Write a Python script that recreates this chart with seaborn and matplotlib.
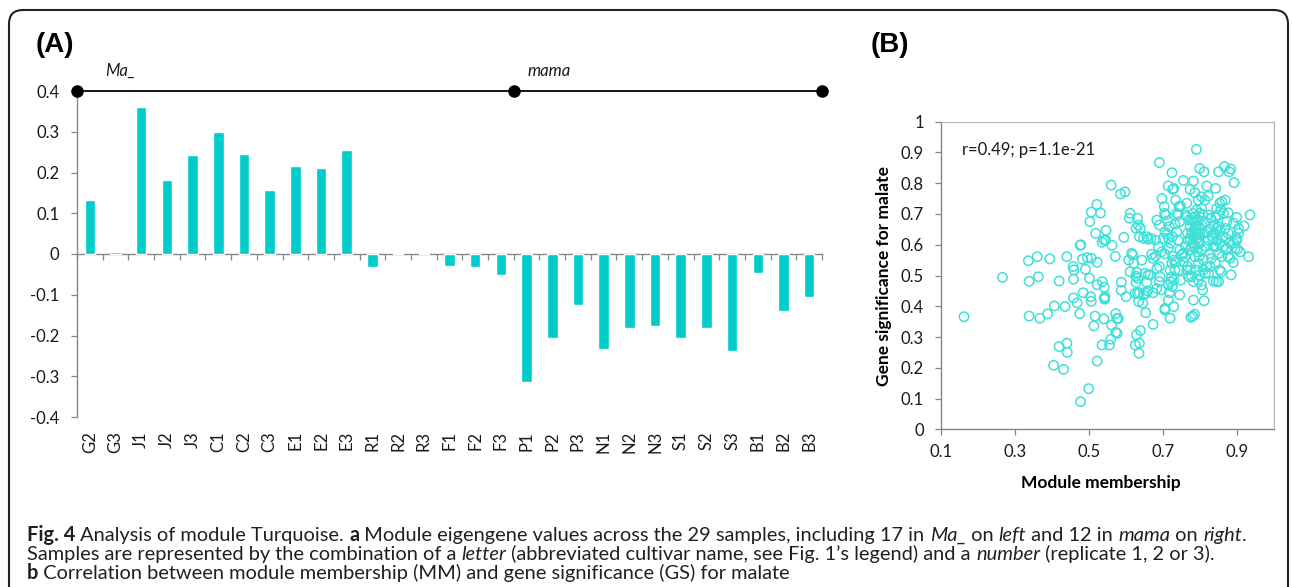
import numpy as np
import pandas as pd
import matplotlib
matplotlib.use("Agg")
import matplotlib.pyplot as plt
import seaborn as sns
from matplotlib.patches import FancyBboxPatch
from matplotlib.transforms import IdentityTransform

# ---------------- data ----------------
samples = ["G2", "G3", "J1", "J2", "J3", "C1", "C2", "C3", "E1", "E2", "E3",
           "R1", "R2", "R3", "F1", "F2", "F3",
           "P1", "P2", "P3", "N1", "N2", "N3", "S1", "S2", "S3", "B1", "B2", "B3"]
eigengene = [0.133, 0.006, 0.360, 0.181, 0.243, 0.300, 0.246, 0.158, 0.216, 0.212, 0.256,
             -0.032, 0.002, 0.002, -0.029, -0.031, -0.052,
             -0.314, -0.207, -0.124, -0.234, -0.181, -0.176, -0.205, -0.181, -0.237,
             -0.046, -0.139, -0.106]
group_names = ["Ma_", "mama"]
group_sizes = [17, 12]
bar_yticks = [-0.4, -0.3, -0.2, -0.1, 0.0, 0.1, 0.2, 0.3, 0.4]
bar_yticklabels = ["-0.4", "-0.3", "-0.2", "-0.1", "0", "0.1", "0.2", "0.3", "0.4"]

mm = [0.163, 0.267, 0.337, 0.361, 0.364, 0.339, 0.395, 0.420, 0.339, 0.368,
      0.389, 0.407, 0.436, 0.441, 0.458, 0.460, 0.459, 0.477, 0.479, 0.483,
      0.496, 0.507, 0.491, 0.502, 0.523, 0.485, 0.459, 0.469, 0.476, 0.505,
      0.507, 0.523, 0.537, 0.542, 0.542, 0.544, 0.543, 0.517, 0.541, 0.514,
      0.420, 0.441, 0.442, 0.405, 0.432, 0.523, 0.536, 0.556, 0.562, 0.573,
      0.576, 0.580, 0.573, 0.577, 0.560, 0.500, 0.478, 0.503, 0.507, 0.522,
      0.532, 0.519, 0.547, 0.536, 0.541, 0.546, 0.563, 0.572, 0.561, 0.586,
      0.598, 0.595, 0.588, 0.588, 0.601, 0.608, 0.612, 0.630, 0.629, 0.626,
      0.637, 0.636, 0.640, 0.654, 0.674,
      0.612, 0.610, 0.616, 0.619, 0.622, 0.628, 0.632, 0.634, 0.637, 0.640,
      0.644, 0.627, 0.632, 0.628, 0.632, 0.637, 0.625, 0.635, 0.646, 0.648,
      0.655, 0.659, 0.657, 0.661, 0.652, 0.657, 0.661, 0.668, 0.648, 0.684,
      0.691, 0.681, 0.688, 0.697, 0.670, 0.674, 0.681, 0.666, 0.684, 0.691,
      0.693, 0.691, 0.697, 0.684, 0.674, 0.691, 0.698, 0.704, 0.705, 0.709,
      0.714, 0.706, 0.711, 0.718, 0.715, 0.702, 0.706, 0.715, 0.721, 0.726,
      0.706, 0.706, 0.715, 0.718, 0.715, 0.720, 0.724, 0.726, 0.730, 0.721,
      0.724, 0.726, 0.720, 0.730, 0.715, 0.725, 0.727, 0.730, 0.735, 0.733,
      0.738, 0.744, 0.748, 0.742, 0.746, 0.738, 0.742, 0.746, 0.751, 0.736,
      0.733, 0.730, 0.744, 0.749, 0.746, 0.756, 0.762, 0.760, 0.756, 0.765,
      0.769, 0.767,
      0.774, 0.783, 0.787, 0.791, 0.796, 0.800, 0.805, 0.812, 0.819, 0.823,
      0.843, 0.851, 0.867, 0.880, 0.884, 0.893, 0.920, 0.936, 0.932, 0.909,
      0.900, 0.905, 0.891, 0.885, 0.891, 0.896, 0.900, 0.905, 0.877, 0.873,
      0.871, 0.869, 0.873, 0.877, 0.864, 0.869, 0.860, 0.854, 0.857, 0.850,
      0.846, 0.843, 0.839, 0.846, 0.850, 0.855, 0.841, 0.837, 0.846, 0.854,
      0.845, 0.851, 0.842, 0.854, 0.858, 0.845, 0.851, 0.837, 0.828, 0.824,
      0.819, 0.815, 0.810, 0.812, 0.808, 0.805, 0.796, 0.800, 0.791, 0.796,
      0.787, 0.783, 0.778, 0.774, 0.783, 0.781, 0.786, 0.776, 0.800, 0.805,
      0.796, 0.787, 0.781, 0.774, 0.769, 0.778, 0.784, 0.791, 0.798, 0.805,
      0.796, 0.787, 0.781, 0.791, 0.800, 0.809, 0.814, 0.819, 0.812, 0.823,
      0.830, 0.823, 0.817, 0.828, 0.832, 0.774, 0.771, 0.765, 0.767, 0.762,
      0.756, 0.791, 0.784, 0.796, 0.798, 0.789, 0.778, 0.774, 0.793, 0.798,
      0.810, 0.800, 0.787, 0.778, 0.805, 0.814, 0.765, 0.828, 0.832, 0.837,
      0.860, 0.864, 0.862, 0.877, 0.882, 0.891, 0.882, 0.900, 0.902]
gs = [0.366, 0.494, 0.548, 0.561, 0.496, 0.481, 0.554, 0.482, 0.368, 0.361,
      0.375, 0.401, 0.399, 0.561, 0.529, 0.518, 0.488, 0.598, 0.600, 0.553,
      0.558, 0.556, 0.520, 0.491, 0.543, 0.444, 0.427, 0.411, 0.376, 0.431,
      0.416, 0.470, 0.480, 0.462, 0.427, 0.431, 0.423, 0.368, 0.359, 0.336,
      0.269, 0.280, 0.250, 0.208, 0.195, 0.222, 0.274, 0.274, 0.339, 0.376,
      0.360, 0.360, 0.315, 0.312, 0.293, 0.132, 0.090, 0.675, 0.706, 0.731,
      0.703, 0.637, 0.647, 0.608, 0.615, 0.615, 0.598, 0.562, 0.794, 0.765,
      0.772, 0.624, 0.478, 0.452, 0.431, 0.550, 0.512, 0.510, 0.307, 0.274,
      0.280, 0.247, 0.321, 0.379, 0.341,
      0.702, 0.686, 0.572, 0.567, 0.540, 0.653, 0.686, 0.664, 0.626, 0.653,
      0.550, 0.498, 0.491, 0.477, 0.442, 0.444, 0.442, 0.415, 0.410, 0.436,
      0.442, 0.450, 0.477, 0.502, 0.507, 0.626, 0.618, 0.621, 0.621, 0.680,
      0.664, 0.615, 0.594, 0.577, 0.569, 0.556, 0.563, 0.502, 0.523, 0.529,
      0.496, 0.480, 0.453, 0.458, 0.444, 0.867, 0.750, 0.724, 0.702, 0.697,
      0.678, 0.642, 0.635, 0.659, 0.621, 0.621, 0.570, 0.588, 0.605, 0.626,
      0.393, 0.388, 0.420, 0.444, 0.469, 0.518, 0.540, 0.563, 0.550, 0.480,
      0.496, 0.464, 0.361, 0.399, 0.791, 0.834, 0.780, 0.783, 0.745, 0.667,
      0.702, 0.724, 0.726, 0.697, 0.675, 0.642, 0.615, 0.583, 0.567, 0.545,
      0.518, 0.485, 0.518, 0.485, 0.437, 0.809, 0.697, 0.561, 0.545, 0.518,
      0.496, 0.529,
      0.780, 0.807, 0.769, 0.910, 0.745, 0.848, 0.756, 0.837, 0.791, 0.758,
      0.783, 0.837, 0.854, 0.837, 0.846, 0.802, 0.661, 0.697, 0.561, 0.577,
      0.689, 0.653, 0.670, 0.502, 0.542, 0.588, 0.621, 0.637, 0.561, 0.588,
      0.621, 0.653, 0.675, 0.704, 0.702, 0.745, 0.740, 0.735, 0.713, 0.697,
      0.718, 0.691, 0.664, 0.653, 0.659, 0.648, 0.637, 0.618, 0.615, 0.605,
      0.594, 0.572, 0.540, 0.518, 0.512, 0.480, 0.480, 0.482, 0.529, 0.507,
      0.529, 0.507, 0.518, 0.418, 0.453, 0.469, 0.485, 0.502, 0.518, 0.540,
      0.561, 0.480, 0.496, 0.518, 0.420, 0.368, 0.374, 0.364, 0.605, 0.583,
      0.610, 0.594, 0.605, 0.621, 0.615, 0.637, 0.646, 0.653, 0.659, 0.664,
      0.680, 0.691, 0.702, 0.713, 0.702, 0.697, 0.675, 0.642, 0.637, 0.697,
      0.686, 0.615, 0.594, 0.572, 0.556, 0.659, 0.680, 0.691, 0.637, 0.594,
      0.572, 0.632, 0.626, 0.637, 0.624, 0.615, 0.594, 0.583, 0.577, 0.561,
      0.550, 0.640, 0.670, 0.680, 0.718, 0.745, 0.735, 0.650, 0.629, 0.594,
      0.561, 0.594, 0.626, 0.637, 0.605, 0.605, 0.556, 0.615, 0.585]
sc_xticks = [0.1, 0.3, 0.5, 0.7, 0.9]
sc_xticklabels = ["0.1", "0.3", "0.5", "0.7", "0.9"]
sc_yticks = [0.0, 0.1, 0.2, 0.3, 0.4, 0.5, 0.6, 0.7, 0.8, 0.9, 1.0]
sc_yticklabels = ["0", "0.1", "0.2", "0.3", "0.4", "0.5", "0.6", "0.7", "0.8", "0.9", "1"]
stat_text = "r=0.49; p=1.1e-21"
sc_xlabel = "Module membership"
sc_ylabel = "Gene significance for malate"

caption_lines = [
    [("Fig. 4", "bold", "normal"), (" Analysis of module Turquoise. ", "normal", "normal"),
     ("a", "bold", "normal"),
     (" Module eigengene values across the 29 samples, including 17 in ", "normal", "normal"),
     ("Ma_", "normal", "italic"), (" on ", "normal", "normal"), ("left", "normal", "italic"),
     (" and 12 in ", "normal", "normal"), ("mama", "normal", "italic"),
     (" on ", "normal", "normal"), ("right", "normal", "italic"), (".", "normal", "normal")],
    [("Samples are represented by the combination of a ", "normal", "normal"),
     ("letter", "normal", "italic"),
     (" (abbreviated cultivar name, see Fig. 1\u2019s legend) and a ", "normal", "normal"),
     ("number", "normal", "italic"), (" (replicate 1, 2 or 3).", "normal", "normal")],
    [("b", "bold", "normal"),
     (" Correlation between module membership (MM) and gene significance (GS) for malate", "normal", "normal")],
]

# ---------------- style ----------------
BAR_COLOR = "#00CDCA"
SC_COLOR = "#3FE0D8"
AX_GREY = "#868686"
TXT = "#1a1a1a"
TICK_FS = 12
LABEL_FS = 12.5

sns.set_theme(style="white")
plt.rcParams["font.family"] = ["Lato", "DejaVu Sans"]
plt.rcParams["text.color"] = TXT

W, H = 1292, 587
fig = plt.figure(figsize=(W / 100, H / 100), dpi=100)
fig.patch.set_facecolor("white")


def px_axes(left, top, right, bottom):
    return fig.add_axes([left / W, 1 - bottom / H, (right - left) / W, (bottom - top) / H])


# outer rounded frame
frame = FancyBboxPatch((9, -25), 1279, 577 + 25, boxstyle="round,pad=0,rounding_size=14",
                       transform=IdentityTransform(), fill=False, lw=1.5, ec="#222222")
fig.add_artist(frame)

# ---------------- panel A ----------------
axA = px_axes(77, 91, 822, 417)
df = pd.DataFrame({"sample": samples, "value": eigengene})
sns.barplot(data=df, x="sample", y="value", color=BAR_COLOR, saturation=1,
            width=0.41, ax=axA, zorder=2)
axA.set_xlim(-0.5, len(samples) - 0.5)
axA.set_ylim(-0.4, 0.4)
axA.set_yticks(bar_yticks)
axA.set_yticklabels(bar_yticklabels)
axA.set_xlabel("")
axA.set_ylabel("")
for s in ["top", "right", "bottom"]:
    axA.spines[s].set_visible(False)
axA.spines["left"].set_color(AX_GREY)
axA.spines["left"].set_linewidth(1.0)
axA.tick_params(axis="y", direction="out", length=4.3, width=0.9, color=AX_GREY,
                pad=8.5, labelsize=TICK_FS, labelcolor=TXT, left=True)
axA.tick_params(axis="x", length=0, pad=10, labelsize=TICK_FS, labelcolor=TXT,
                labelrotation=90)

# zero line with category-boundary ticks
secax = axA.secondary_xaxis(0.5)
secax.set_alignment("bottom")
secax.set_xticks(np.arange(-0.5, len(samples), 1.0))
secax.set_xticklabels([])
secax.spines["bottom"].set_color(AX_GREY)
secax.spines["bottom"].set_linewidth(1.0)
secax.tick_params(axis="x", direction="out", length=4, width=0.9, color=AX_GREY)

# group line
bounds = np.concatenate([[0], np.cumsum(group_sizes)]) - 0.5
axA.plot(bounds, [0.4] * len(bounds), color="black", lw=1.3, marker="o", ms=8,
         clip_on=False, zorder=5)
label_offsets = [1.09, 0.55]
for name, b, off in zip(group_names, bounds[:-1], label_offsets):
    axA.text(b + off, 0.45, name, ha="left", va="center", fontsize=TICK_FS,
             style="italic", color=TXT, clip_on=False)

fig.text(36 / W, 1 - 45 / H, "(A)", fontsize=20, fontweight="bold", va="center",
         ha="left", color="black", family=["Liberation Sans", "DejaVu Sans"])

# ---------------- panel B ----------------
axB = px_axes(940.7, 121.7, 1273.7, 429.3)
sns.scatterplot(x=mm, y=gs, ax=axB, marker="o", s=45, facecolor="none",
                edgecolor=SC_COLOR, linewidth=1.1, zorder=3)
axB.set_xlim(0.1, 1.0)
axB.set_ylim(0, 1.0)
axB.set_xticks(sc_xticks)
axB.set_xticklabels(sc_xticklabels)
axB.set_yticks(sc_yticks)
axB.set_yticklabels(sc_yticklabels)
for s in ["left", "bottom"]:
    axB.spines[s].set_color(AX_GREY)
    axB.spines[s].set_linewidth(1.0)
for s in ["top", "right"]:
    axB.spines[s].set_color("#b3b3b3")
    axB.spines[s].set_linewidth(0.8)
axB.tick_params(axis="both", direction="out", length=4.2, width=0.9, color=AX_GREY,
                labelsize=TICK_FS, labelcolor=TXT, left=True, bottom=True)
axB.tick_params(axis="y", pad=8)
axB.tick_params(axis="x", pad=6.5)
axB.set_xlabel(sc_xlabel, fontsize=LABEL_FS, fontweight="bold", color="black")
axB.set_ylabel(sc_ylabel, fontsize=LABEL_FS, fontweight="bold", color="black")
axB.xaxis.set_label_coords(0.481, -0.175)
axB.xaxis.label.set_va("center")
axB.yaxis.set_label_coords(-0.170, 0.5)
axB.yaxis.label.set_va("center")
axB.text(0.064, 0.908, stat_text, transform=axB.transAxes, fontsize=TICK_FS,
         ha="left", va="center", color=TXT)

fig.text(871 / W, 1 - 45 / H, "(B)", fontsize=20, fontweight="bold", va="center",
         ha="left", color="black", family=["Liberation Sans", "DejaVu Sans"])

# ---------------- caption ----------------
renderer = fig.canvas.get_renderer()
CAP_FONT = ["Lato", "DejaVu Sans"]


def text_width(s, size, weight, style):
    t = fig.text(0, 0, s, fontsize=size, fontweight=weight, fontstyle=style, family=CAP_FONT)
    w = t.get_window_extent(renderer=renderer).width
    t.remove()
    return w


def part_width(s, size, weight, style):
    return (text_width("|" + s + "|", size, weight, style)
            - text_width("||", size, weight, style))


# choose caption size so that first line spans the measured width
target = 1246 - 27
w10 = sum(part_width(p, 10, wt, st) for p, wt, st in caption_lines[0])
cap_size = 10 * target / w10

cap_x0 = 27
cap_baselines = [541, 560, 579]
for line, yb in zip(caption_lines, cap_baselines):
    x = cap_x0
    for p, wt, st in line:
        fig.text(x / W, 1 - yb / H, p, fontsize=cap_size, fontweight=wt, fontstyle=st,
                 family=CAP_FONT, ha="left", va="baseline", color="#231f20")
        x += part_width(p, cap_size, wt, st)

fig.savefig("out.png", dpi=100)
